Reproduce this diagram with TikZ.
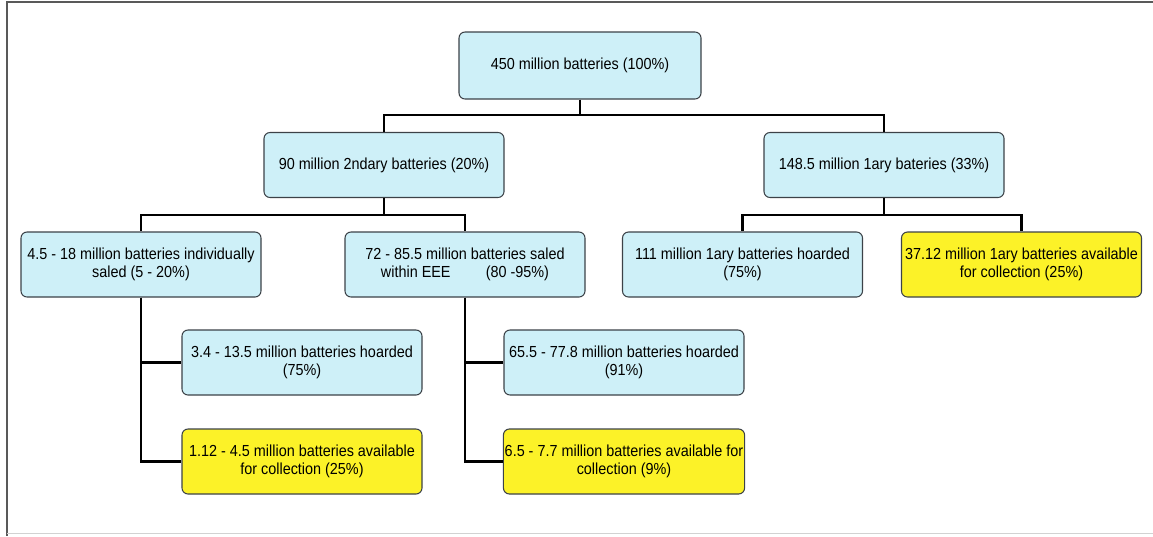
\documentclass[tikz,border=0pt]{standalone}
\usepackage{fontspec}
\setmainfont[FakeStretch=0.9]{Liberation Sans}
\definecolor{boxblue}{RGB}{206,240,248}
\definecolor{boxyellow}{RGB}{252,242,40}
\definecolor{boxedge}{RGB}{60,66,72}
\tikzset{
  box/.style={draw=boxedge, line width=0.8pt, rounded corners=4.5pt, minimum width=180pt, minimum height=48.75pt, align=center, inner xsep=1pt, inner ysep=2pt, font=\fontsize{12}{14}\selectfont},
  bluebox/.style={box, fill=boxblue},
  yellowbox/.style={box, fill=boxyellow},
  link/.style={line width=2.2pt}
}

\begin{document}
\begin{tikzpicture}[x=0.75pt, y=-0.75pt]
    \useasboundingbox (0,0) rectangle (1153,536);
    % frame
    \draw[gray!70!black, line width=1.5pt] (7,536) -- (7,1.5) -- (1153,1.5); \draw[gray!35, line width=0.6pt] (7,533) -- (1153,533);

    % boxes
    \node[bluebox, minimum width=181.5pt, minimum height=50.25pt] (root) at (580,65.5) {450 million batteries (100\%)};
    \node[bluebox] (sec) at (384,165) {90 million 2ndary batteries (20\%)};
    \node[bluebox] (pri) at (884,165) {148.5 million 1ary bateries (33\%)};
    \node[bluebox] (indiv) at (141,264.5) {4.5 - 18 million batteries individually\\saled (5 - 20\%)};
    \node[bluebox] (eee) at (465,264.5) {72 - 85.5 million batteries saled\\within EEE\hspace{2.2em}(80 -95\%)};
    \node[bluebox] (hoardP) at (742.5,264.5) {111 million 1ary batteries hoarded\\(75\%)};
    \node[yellowbox] (collP) at (1021.5,264.5) {37.12 million 1ary batteries available\\for collection (25\%)};
    \node[bluebox] (hoardA) at (302,362.5) {3.4 - 13.5 million batteries hoarded\\(75\%)};
    \node[yellowbox] (collA) at (302,461.5) {1.12 - 4.5 million batteries available\\for collection (25\%)};
    \node[bluebox] (hoardB) at (624,362.5) {65.5 - 77.8 million batteries hoarded\\(91\%)};
    \node[yellowbox] (collB) at (624,461.5) {6.5 - 7.7 million batteries available for\\collection (9\%)};

    % links
    \coordinate (j0) at (580,115); \coordinate (j1) at (384,215); \coordinate (j2) at (884,215);
    \draw[link] (root.south) -- (j0) -| (sec.north); \draw[link] (j0) -| (pri.north);
    \draw[link] (sec.south) -- (j1) -| (indiv.north); \draw[link] (j1) -| (eee.north);
    \draw[link] (pri.south) -- (j2) -| (hoardP.north); \draw[link] (j2) -| (collP.north);
    \draw[link] (indiv.south) |- (hoardA.west); \draw[link] (indiv.south) |- (collA.west);
    \draw[link] (eee.south) |- (hoardB.west); \draw[link] (eee.south) |- (collB.west);
\end{tikzpicture}
\end{document}
